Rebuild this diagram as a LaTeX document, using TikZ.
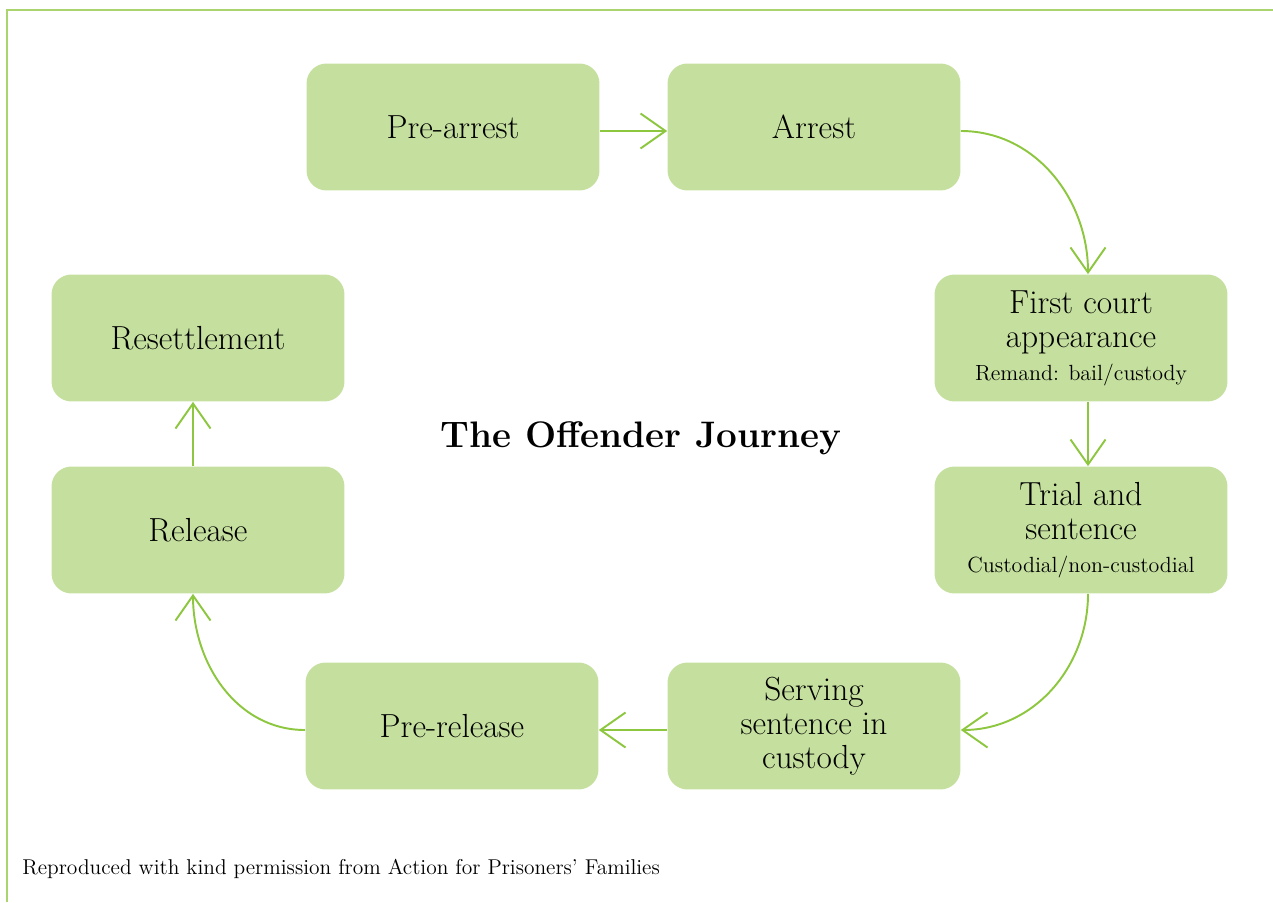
\documentclass[tikz,border=0pt]{standalone}
\usetikzlibrary{arrows.meta}
\definecolor{boxgreen}{HTML}{C5E09E}
\definecolor{arrowgreen}{HTML}{8DC63F}
\definecolor{framegreen}{HTML}{A9D46E}
\newcommand{\subline}{\fontsize{12.5}{14}\selectfont}

\begin{document}
\begin{tikzpicture}[x=0.02cm,y=-0.02cm,
  stage/.style={fill=boxgreen, rounded corners=0.4cm, minimum width=5.86cm,
    minimum height=2.54cm, align=center, inner sep=0pt,
    font=\fontsize{19}{19.5}\selectfont},
  flow/.style={draw=arrowgreen, line width=1.1pt,
    -{Straight Barb[length=0.5cm,width=0.7cm]}}]
\useasboundingbox (0,0) rectangle (1273,902);
\draw[framegreen, line width=1.1pt] (1273,10)--(7,10)--(7,902);
% stages
\node[stage] (prearrest) at (453,127) {Pre-arrest};
\node[stage] (arrest) at (814,127) {Arrest};
\node[stage] (court) at (1081,338) {First court\\appearance\\[-1pt]{\subline Remand: bail/custody}};
\node[stage] (trial) at (1081,530) {Trial and\\sentence\\[-1pt]{\subline Custodial/non-custodial}};
\node[stage] (serving) at (814,726) {Serving\\sentence in\\custody};
\node[stage] (prerelease) at (452,726) {Pre-release};
\node[stage] (release) at (198,530) {Release};
\node[stage] (resettle) at (198,338) {Resettlement};
\node[font=\bfseries\fontsize{21}{25}\selectfont] (title) at (641,438) {The Offender Journey};
\node[anchor=west, inner sep=0pt, font=\fontsize{12.2}{14}\selectfont] (credit) at (22,869)
  {Reproduced with kind permission from Action for Prisoners' Families};
% arrows
\draw[flow] ([yshift=-0.08cm]prearrest.east) -- ([yshift=-0.08cm]arrest.west);
\draw[flow] ([yshift=-0.08cm]arrest.east) to[out=0,in=90] ([xshift=0.14cm]court.north);
\draw[flow] ([xshift=0.14cm]court.south) -- ([xshift=0.14cm]trial.north);
\draw[flow] ([xshift=0.14cm]trial.south) to[out=-90,in=0] ([yshift=-0.08cm]serving.east);
\draw[flow] ([yshift=-0.08cm]serving.west) -- ([yshift=-0.08cm]prerelease.east);
\draw[flow] ([yshift=-0.08cm]prerelease.west) to[out=180,in=-90] ([xshift=-0.1cm]release.south);
\draw[flow] ([xshift=-0.1cm]release.north) -- ([xshift=-0.1cm]resettle.south);
\end{tikzpicture}
\end{document}
